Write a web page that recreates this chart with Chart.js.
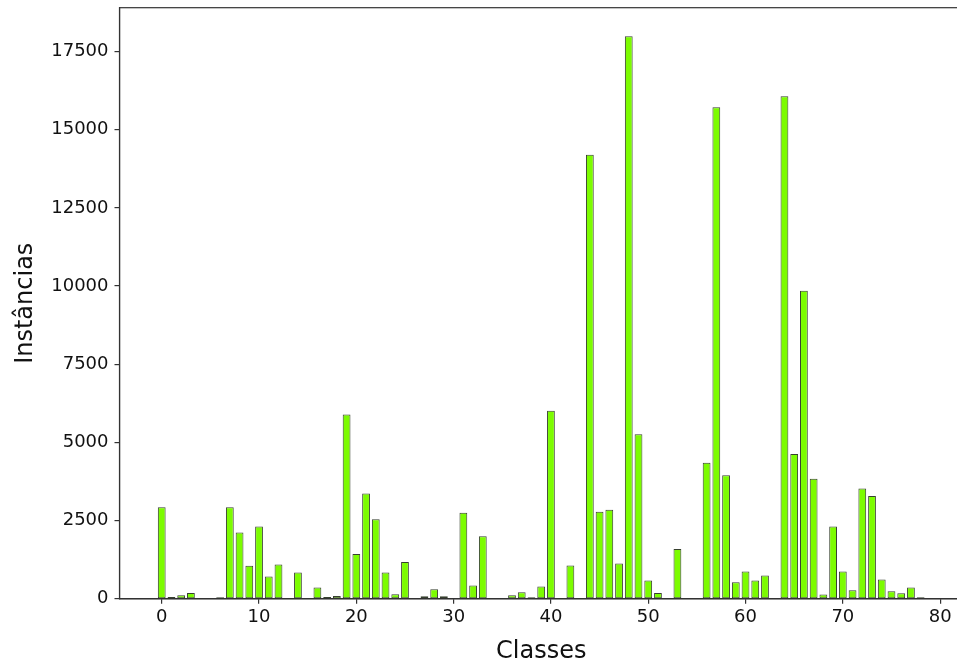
<!DOCTYPE html>
<html>
<head>
<meta charset="utf-8">
<script src="https://cdn.jsdelivr.net/npm/chart.js@4/dist/chart.umd.min.js"></script>
<style>
  html, body { margin: 0; padding: 0; background: #fff; overflow: hidden; }
  #wrap { width: 957px; height: 666px; overflow: hidden; }
  canvas { display: block; }
</style>
</head>
<body>
<div id="wrap"><canvas id="chart" width="964" height="666"></canvas></div>
<script>
// Number of instances per class
const classes = Array.from({ length: 79 }, (_, i) => i);
const counts = [
  2930, 60, 110, 185, 0, 0, 50, 2930, 2120, 1060,
  2310, 710, 1095, 0, 840, 20, 365, 58, 90, 5890,
  1435, 3370, 2540, 840, 145, 1180, 0, 80, 305, 80,
  0, 2750, 425, 2000, 0, 20, 110, 210, 50, 390,
  6010, 15, 1065, 0, 14200, 2780, 2850, 1130, 17990, 5260,
  585, 185, 0, 1590, 0, 0, 4350, 15720, 3950, 530,
  875, 585, 745, 0, 16070, 4630, 9850, 3840, 135, 2315,
  875, 275, 3530, 3290, 615, 240, 175, 360, 50
];
const xTicks = [0, 10, 20, 30, 40, 50, 60, 70, 80];
const yTicks = [0, 2500, 5000, 7500, 10000, 12500, 15000, 17500];

const FONT = 'DejaVu Sans';
const INK = '#333333';

// Frame around the plotting area (top and right sides of the box)
const frame = {
  id: 'frame',
  afterDatasetsDraw(chart) {
    const { ctx, chartArea: a } = chart;
    ctx.save();
    ctx.strokeStyle = INK;
    ctx.lineWidth = 1.2;
    ctx.strokeRect(a.left, a.top, a.right - a.left, a.bottom - a.top);
    ctx.restore();
  }
};

new Chart(document.getElementById('chart'), {
  type: 'bar',
  data: {
    datasets: [{
      data: classes.map((c, i) => ({ x: c, y: counts[i] })),
      backgroundColor: '#7CFC00',
      borderColor: 'rgba(20,30,10,0.85)',
      borderWidth: 1,
      borderSkipped: false,
      categoryPercentage: 1.0,
      barPercentage: 0.8
    }]
  },
  options: {
    responsive: false,
    devicePixelRatio: 1,
    animation: false,
    layout: { padding: { top: 7.7, right: 1.1, left: 0, bottom: 0 } },
    plugins: { legend: { display: false }, tooltip: { enabled: false } },
    scales: {
      x: {
        type: 'linear',
        offset: false,
        min: -4.34,
        max: 82.34,
        afterBuildTicks(scale) { scale.ticks = xTicks.map(v => ({ value: v })); },
        afterFit(scale) {
          scale.height = 67.2;
          scale.paddingLeft = 0; scale.paddingRight = 0;
        },
        ticks: {
          color: '#111', font: { family: FONT, size: 18 }, padding: 3,
          maxRotation: 0, autoSkip: false
        },
        grid: { offset: false, drawOnChartArea: false, drawTicks: true, tickLength: 5, color: INK, lineWidth: 1.2 },
        border: { display: true, color: INK, width: 1.2 },
        title: {
          display: true, text: 'Classes', color: '#111',
          font: { family: FONT, size: 24 }, padding: { top: 4, bottom: 0 }
        }
      },
      y: {
        min: 0,
        max: 18900,
        afterBuildTicks(scale) { scale.ticks = yTicks.map(v => ({ value: v })); },
        afterFit(scale) {
          scale.width = 119.5;
          scale.paddingTop = 0; scale.paddingBottom = 0;
        },
        ticks: {
          color: '#111', font: { family: FONT, size: 18 }, padding: 6,
          callback: v => String(v)
        },
        grid: { drawOnChartArea: false, drawTicks: true, tickLength: 5, color: INK, lineWidth: 1.2 },
        border: { display: true, color: INK, width: 1.2 },
        title: {
          display: true, text: 'Instâncias', color: '#111',
          font: { family: FONT, size: 24 }, padding: { top: 11, bottom: 0 }
        }
      }
    }
  },
  plugins: [frame]
});
</script>
</body>
</html>
